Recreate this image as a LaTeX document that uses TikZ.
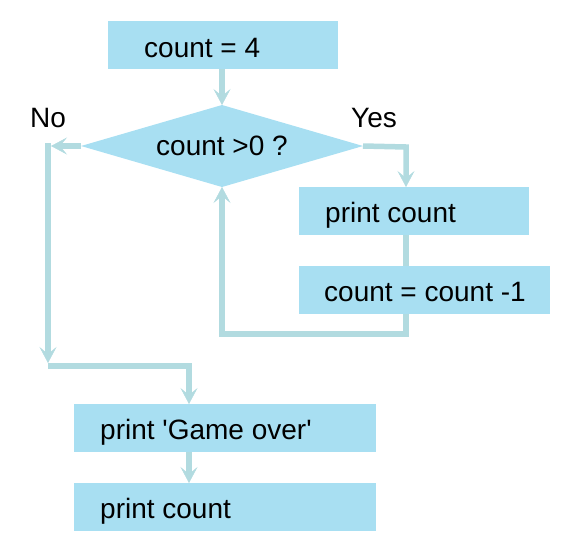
\documentclass[tikz,border=0pt]{standalone}
\usepackage{fontspec}
\newfontfamily\lsans{Liberation Sans}
\usetikzlibrary{arrows.meta,shapes.geometric}
\definecolor{boxfill}{RGB}{168,223,242}
\definecolor{arrc}{RGB}{178,219,224}
\begin{document}
\begin{tikzpicture}[x=1pt,y=-1pt,
  box/.style={fill=boxfill, draw=none, minimum width=#1, minimum height=48pt, inner sep=0pt, outer sep=0pt, anchor=north west},
  txt/.style={font=\lsans\fontsize{28}{30}\selectfont, inner sep=0pt, anchor=base west, text=black},
  dia/.style={diamond, aspect=3.44, fill=boxfill, draw=none, minimum width=282pt, minimum height=82pt, inner sep=0pt, outer sep=0pt, font=\lsans\fontsize{28}{30}\selectfont},
  lbl/.style={font=\lsans\fontsize{28}{30}\selectfont, inner sep=0pt},
  ln/.style={draw=arrc, line width=5.5pt},
  arr/.style={ln, -{Stealth[length=16pt,width=17pt,inset=7pt,line width=0.5pt]}}]
\useasboundingbox (0,0) rectangle (576,555);
% boxes
\node[box=230] (b1) at (108,21) {};
\node[txt] (t1) at (144,57) {count = 4};
\node[dia] (d) at (222,146) {count >0 ?};
\node[box=230] (p1) at (299,187) {};
\node[txt] (t2) at (325,222) {print count};
\node[box=251] (c1) at (299,266) {};
\node[txt] (t3) at (324,301) {count = count -1};
\node[box=302] (g1) at (74,404) {};
\node[txt] (t4) at (100,439) {print 'Game over'};
\node[box=302] (g2) at (74,483) {};
\node[txt] (t5) at (100,518) {print count};
% labels
\node[lbl] (no) at (48,118) {No};
\node[lbl] (yes) at (374,118) {Yes};
% coordinates
\coordinate (yc) at (406,147);
\coordinate (lc) at (406,334);
\coordinate (n1) at (51,146);
\coordinate (n2) at (48,143);
\coordinate (n3) at (48,363);
\coordinate (n4) at (48,366);
\coordinate (n5) at (189,366);
% connectors
\draw[arr] (d.north |- b1.south) -- (d.north);
\draw[arr] (d.east) -- (yc) -- (yc |- p1.north);
\draw[ln] (yc |- p1.south) -- (yc |- c1.north);
\draw[arr] (yc |- c1.south) -- (lc) -- (lc -| d.south) -- (d.south);
\draw[arr] (d.west) -- (n1);
\draw[arr] (n2) -- (n3);
\draw[arr] (n4) -- (n5) -- (n5 |- g1.north);
\draw[arr] (n5 |- g1.south) -- (n5 |- g2.north);
\end{tikzpicture}
\end{document}
